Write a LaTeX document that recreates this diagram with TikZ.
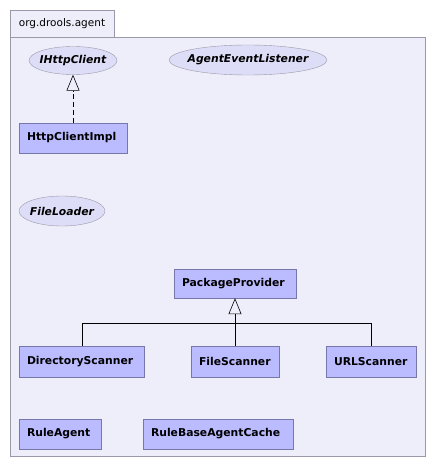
\documentclass[tikz,border=0pt]{standalone}
\usepackage{fontspec}
\setmainfont{DejaVu Sans}
\usetikzlibrary{shapes.geometric,arrows.meta}
\definecolor{pkgfill}{HTML}{EEEEFA}
\definecolor{pkgline}{HTML}{9999AA}
\definecolor{clsfill}{HTML}{BBBBFF}
\definecolor{clsline}{HTML}{7777AA}
\definecolor{ifcfill}{HTML}{DDDDF8}
\newcommand{\zw}[1]{\makebox[0pt]{#1}}
\tikzset{
  cls/.style={draw=clsline, fill=clsfill, inner xsep=8pt, inner ysep=0pt, align=left, font=\fontsize{10.8}{12}\selectfont\bfseries},
  ifc/.style={ellipse, draw=pkgline, fill=ifcfill, inner sep=0pt, font=\fontsize{10.8}{12}\selectfont\bfseries\itshape},
  gen/.style={-{Triangle[open,length=16pt,width=13pt]}, line width=0.6pt},
}
\begin{document}
\begin{tikzpicture}[x=1pt,y=-1pt]
\useasboundingbox (0,0) rectangle (436,470);
\fill[white] (0,0) rectangle (436,470);
% package
\draw[draw=pkgline, fill=pkgfill] (10,10) rectangle (114,37);
\draw[draw=pkgline, fill=pkgfill] (10,37) rectangle (425,456);
\node[font=\fontsize{10.5}{12}\selectfont, anchor=center] (pkg) at (62,24) {org.drools.agent};
% interfaces
\node[ifc, minimum width=88pt, minimum height=28pt] (ihttp) at (73,60.5) {\zw{IHttpClient}};
\node[ifc, minimum width=158pt, minimum height=30pt] (ael) at (248,60) {\zw{AgentEventListener}};
\node[ifc, minimum width=86pt, minimum height=30pt] (fl) at (62,211) {\zw{FileLoader}};
% classes
\node[cls, text width=92pt, minimum height=30pt] (hci) at (73,138) {HttpClientImpl};
\node[cls, text width=106pt, minimum height=29pt] (pp) at (235,283.5) {PackageProvider};
\node[cls, text width=109pt, minimum height=31pt] (ds) at (81.5,361.5) {DirectoryScanner};
\node[cls, text width=72pt, minimum height=31pt] (fs) at (235,361.5) {FileScanner};
\node[cls, text width=74pt, minimum height=31pt] (us) at (371,361.5) {URLScanner};
\node[cls, text width=66pt, minimum height=30pt] (ra) at (60,434) {RuleAgent};
\node[cls, text width=134pt, minimum height=30pt] (rbac) at (218,434) {RuleBaseAgentCache};
% realization
\draw[gen, dashed, dash pattern=on 5pt off 3pt] (hci.north) -- (ihttp.south);
% generalization
\coordinate (bar) at (235,323);
\draw[line width=0.6pt] (ds.north -| 82,0) |- (bar);
\draw[line width=0.6pt] (us.north) |- (bar);
\draw[gen] (fs.north) -- (pp.south);
\end{tikzpicture}
\end{document}
